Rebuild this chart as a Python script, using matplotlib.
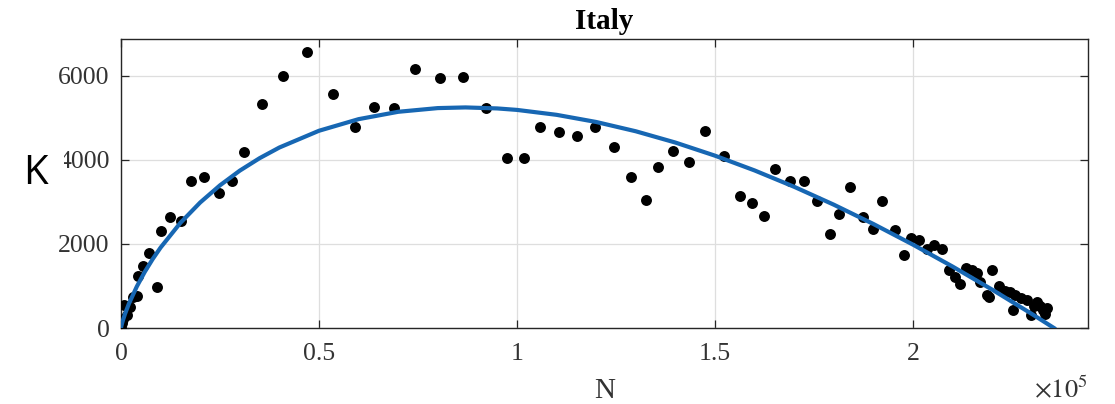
import matplotlib
matplotlib.use("Agg")
import matplotlib.pyplot as plt
from matplotlib.patches import Rectangle
from matplotlib.ticker import FuncFormatter
import numpy as np

# daily new cases K against cumulative cases N (N in units of 1e5)
n_obs = [0.000, 0.003, 0.006, 0.0085, 0.014, 0.022, 0.030, 0.040, 0.044, 0.056,
         0.072, 0.090, 0.101, 0.125, 0.151, 0.177, 0.210, 0.248, 0.280, 0.311,
         0.356, 0.410, 0.470, 0.536, 0.591, 0.639, 0.690, 0.743, 0.805, 0.864,
         0.923, 0.976, 1.017, 1.057, 1.105, 1.152, 1.198, 1.245, 1.289, 1.325,
         1.356, 1.394, 1.435, 1.475, 1.523, 1.563, 1.594, 1.625, 1.652, 1.689,
         1.725, 1.758, 1.790, 1.813, 1.840, 1.873, 1.899, 1.923, 1.955, 1.977,
         1.994, 2.016, 2.036, 2.054, 2.074, 2.091, 2.106, 2.119, 2.134, 2.148,
         2.161, 2.169, 2.186, 2.193, 2.199, 2.218, 2.232, 2.245, 2.253, 2.258,
         2.272, 2.287, 2.297, 2.305, 2.312, 2.321, 2.328, 2.334, 2.338]
k_obs = [0, 120, 224, 540, 300, 500, 740, 760, 1240, 1480,
         1790, 970, 2310, 2640, 2540, 3490, 3580, 3210, 3500, 4195,
         5320, 5990, 6555, 5557, 4781, 5255, 5221, 6152, 5952, 5969,
         5221, 4040, 4048, 4771, 4667, 4571, 4786, 4302, 3595, 3033,
         3833, 4214, 3952, 4690, 4095, 3143, 2962, 2652, 3771, 3500,
         3486, 3024, 2238, 2714, 3357, 2636, 2343, 3024, 2333, 1731,
         2128, 2088, 1890, 1976, 1890, 1374, 1214, 1057, 1438, 1374,
         1319, 1095, 779, 738, 1390, 993, 881, 857, 421, 795,
         724, 660, 302, 530, 619, 517, 438, 343, 480]

# fitted curve
n_fit = [0.0, 0.001, 0.0025, 0.005, 0.01, 0.02, 0.04, 0.06, 0.08, 0.10,
         0.15, 0.20, 0.25, 0.30, 0.35, 0.40, 0.50, 0.60, 0.70, 0.80,
         0.87, 0.95, 1.00, 1.10, 1.20, 1.30, 1.40, 1.50, 1.60, 1.70,
         1.80, 1.90, 2.00, 2.10, 2.20, 2.30, 2.356]
k_fit = [0, 47, 104, 186, 330, 577, 986, 1333, 1638, 1912,
         2499, 2984, 3392, 3741, 4037, 4291, 4689, 4965, 5140, 5228,
         5244, 5220, 5185, 5068, 4898, 4677, 4409, 4097, 3746, 3357,
         2932, 2473, 1982, 1461, 912, 335, 0]

x_ticks = [0, 0.5, 1, 1.5, 2]
y_ticks = [0, 2000, 4000, 6000]

plt.rcParams['mathtext.fontset'] = 'stix'
serif = 'Liberation Serif'
grey = '#333333'

fig = plt.figure(figsize=(11.15, 4.04), dpi=100)
ax = fig.add_axes([0.1085, 0.1881, 0.8673, 0.7153])

ax.scatter(np.array(n_obs) * 1e5, k_obs, s=62, color='black', zorder=3, linewidths=0)
ax.plot(np.array(n_fit) * 1e5, k_fit, color='#1767b3', lw=3.0, zorder=4)

ax.set_xlim(0, 2.442e5)
ax.set_ylim(0, 6870)
ax.set_xticks(np.array(x_ticks) * 1e5)
ax.set_yticks(y_ticks)
ax.xaxis.set_major_formatter(FuncFormatter(lambda v, p: '%g' % (v / 1e5)))

ax.grid(True, color='#dedede', lw=0.9)
ax.set_axisbelow(True)
for s in ax.spines.values():
    s.set_color('#262626')
    s.set_linewidth(1.0)
ax.tick_params(direction='in', length=5.5, width=0.9, color='#262626',
               top=True, right=True, labelsize=18.5, labelcolor=grey)
ax.tick_params(axis='x', pad=11)
ax.tick_params(axis='y', pad=8)
for lab in ax.get_xticklabels() + ax.get_yticklabels():
    lab.set_fontfamily(serif)

ax.set_title('Italy', fontfamily=serif, fontweight='bold', fontsize=21, pad=7.5)
ax.set_xlabel('N', fontfamily=serif, fontsize=21, color=grey, labelpad=9)
ax.text(1.0, -0.168, r'$\times10^{5}$', transform=ax.transAxes, ha='right',
        va='top', fontsize=19, color=grey)

# K label sits on a white patch over the left of the axis labels
fig.patches.append(Rectangle((10 / 1115, 1 - 196 / 404), 54 / 1115, 46 / 404,
                             transform=fig.transFigure, facecolor='white',
                             edgecolor='none', zorder=5))
fig.text(35 / 1115, 1 - 174 / 404, 'K', fontfamily='Open Sans', fontsize=29,
         ha='center', va='center', color='black', zorder=6)

fig.savefig('out.png', dpi=100)
